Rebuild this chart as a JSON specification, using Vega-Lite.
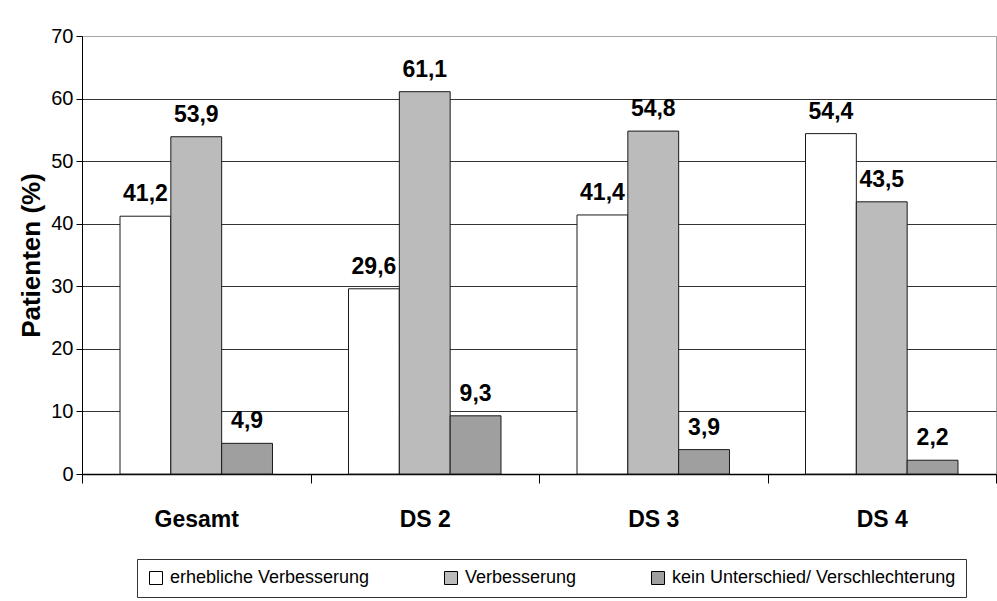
{
  "$schema": "https://vega.github.io/schema/vega-lite/v6.json",
  "width": 914,
  "height": 438,
  "autosize": {"type": "none"},
  "padding": {"left": 82, "top": 36, "right": 1, "bottom": 127},
  "background": "white",
  "data": {
    "values": [
      {"group": "Gesamt", "series": "erhebliche Verbesserung", "value": 41.2},
      {"group": "Gesamt", "series": "Verbesserung", "value": 53.9},
      {"group": "Gesamt", "series": "kein Unterschied/ Verschlechterung", "value": 4.9},
      {"group": "DS 2", "series": "erhebliche Verbesserung", "value": 29.6},
      {"group": "DS 2", "series": "Verbesserung", "value": 61.1},
      {"group": "DS 2", "series": "kein Unterschied/ Verschlechterung", "value": 9.3},
      {"group": "DS 3", "series": "erhebliche Verbesserung", "value": 41.4},
      {"group": "DS 3", "series": "Verbesserung", "value": 54.8},
      {"group": "DS 3", "series": "kein Unterschied/ Verschlechterung", "value": 3.9},
      {"group": "DS 4", "series": "erhebliche Verbesserung", "value": 54.4},
      {"group": "DS 4", "series": "Verbesserung", "value": 43.5},
      {"group": "DS 4", "series": "kein Unterschied/ Verschlechterung", "value": 2.2}
    ]
  },
  "encoding": {
    "x": {
      "field": "group",
      "type": "nominal",
      "sort": ["Gesamt", "DS 2", "DS 3", "DS 4"],
      "scale": {"paddingInner": 0, "paddingOuter": 0},
      "axis": {
        "title": null,
        "labelAngle": 0,
        "tickBand": "extent",
        "tickSize": 9,
        "tickColor": "#000000",
        "domainColor": "#000000",
        "domainWidth": 1.5,
        "labelFont": "Liberation Sans",
        "labelFontWeight": "bold",
        "labelFontSize": 23,
        "labelColor": "#000000",
        "labelPadding": 25,
        "grid": false
      }
    },
    "xOffset": {
      "field": "series",
      "type": "nominal",
      "sort": ["erhebliche Verbesserung", "Verbesserung", "kein Unterschied/ Verschlechterung"],
      "scale": {"paddingInner": 0, "paddingOuter": 0.748}
    },
    "y": {
      "field": "value",
      "type": "quantitative",
      "scale": {"domain": [0, 70], "nice": false},
      "axis": {
        "values": [0, 10, 20, 30, 40, 50, 60, 70],
        "title": "Patienten (%)",
        "titleFont": "Liberation Sans",
        "titleFontWeight": "bold",
        "titleFontSize": 26,
        "titleColor": "#000000",
        "titlePadding": 6,
        "labelFont": "Liberation Sans",
        "labelFontSize": 20,
        "labelColor": "#000000",
        "labelPadding": 3,
        "tickSize": 6,
        "tickColor": "#000000",
        "domainColor": "#000000",
        "grid": true,
        "gridColor": {"condition": {"test": "datum.value === 70", "value": "#a6a6a6"}, "value": "#333333"},
        "gridWidth": 1
      }
    }
  },
  "layer": [
    {
      "mark": {"type": "bar", "stroke": "#1a1a1a", "strokeWidth": 1},
      "encoding": {
        "color": {
          "field": "series",
          "type": "nominal",
          "sort": ["erhebliche Verbesserung", "Verbesserung", "kein Unterschied/ Verschlechterung"],
          "scale": {
            "domain": ["erhebliche Verbesserung", "Verbesserung", "kein Unterschied/ Verschlechterung"],
            "range": ["#ffffff", "#bbbbbb", "#9f9f9f"]
          },
          "legend": {
            "orient": "none",
            "legendX": 55,
            "legendY": 523,
            "direction": "horizontal",
            "title": null,
            "strokeColor": "#333333",
            "fillColor": "#ffffff",
            "padding": 10,
            "columnPadding": 72,
            "symbolType": "square",
            "symbolSize": 169,
            "symbolStrokeColor": "#000000",
            "symbolStrokeWidth": 1,
            "labelFont": "Liberation Sans",
            "labelFontSize": 18,
            "labelColor": "#000000",
            "labelOffset": 5,
            "labelLimit": 500
          }
        }
      }
    },
    {
      "mark": {
        "type": "text",
        "baseline": "alphabetic",
        "dy": -15,
        "font": "Liberation Sans",
        "fontWeight": "bold",
        "fontSize": 23,
        "color": "#000000"
      },
      "encoding": {
        "text": {"field": "value", "type": "quantitative", "format": ".1f"}
      }
    }
  ],
  "config": {
    "locale": {
      "number": {"decimal": ",", "thousands": ".", "grouping": [3], "currency": ["", " €"]}
    },
    "view": {"stroke": "#a6a6a6"}
  }
}
